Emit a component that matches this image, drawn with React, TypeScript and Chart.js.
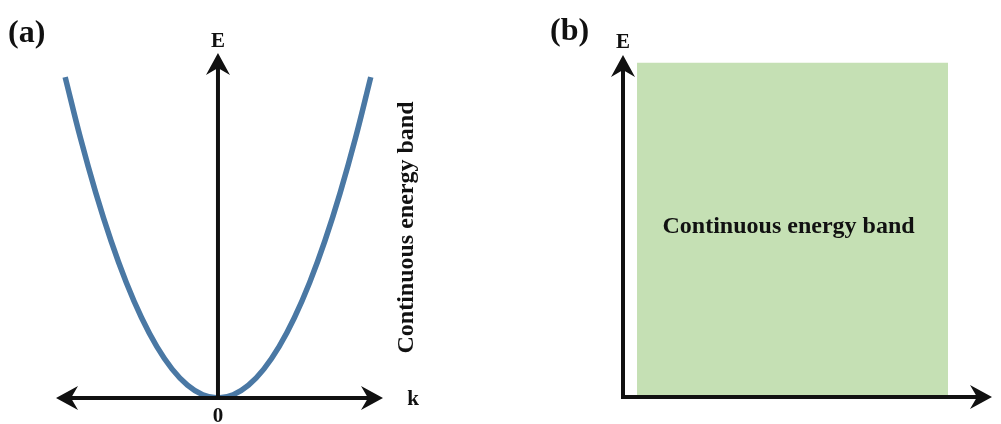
import React, { useEffect, useRef } from "react";
import { Chart, registerables } from "chart.js";

Chart.register(...registerables);

// ---- Panel (a): free-electron dispersion E(k) ----
const kValues = [-1.0, -0.9, -0.8, -0.7, -0.6, -0.5, -0.4, -0.3, -0.2, -0.1, 0, 0.1, 0.2, 0.3, 0.4, 0.5, 0.6, 0.7, 0.8, 0.9, 1.0];
const energyValues = [1.0, 0.81, 0.64, 0.49, 0.36, 0.25, 0.16, 0.09, 0.04, 0.01, 0, 0.01, 0.04, 0.09, 0.16, 0.25, 0.36, 0.49, 0.64, 0.81, 1.0];
const kAxisRange = [-1.06, 1.08];
const energyAxisRangeA = [0, 1.075];

// ---- Panel (b): continuous band block ----
const bandXRange = [0.038, 0.881];
const bandEnergyRange = [0.006, 0.977];
const axisXRangeB = [0, 1];
const energyAxisRangeB = [0, 1];

// ---- Text ----
const panelLabels = ["(a)", "(b)"];
const energyLabel = "E";
const kLabel = "k";
const originLabel = "0";
const bandLabel = "Continuous energy band";

const CURVE_COLOR = "#4a78a4";
const BAND_COLOR = "#c5e0b4";
const INK = "#111111";
const SERIF = "'Liberation Serif', 'DejaVu Serif', serif";

function arrowHead(ctx: CanvasRenderingContext2D, x: number, y: number, angle: number) {
  const len = 22, half = 12, notch = 7;
  ctx.save();
  ctx.translate(x, y);
  ctx.rotate(angle);
  ctx.beginPath();
  ctx.moveTo(0, 0);
  ctx.lineTo(-len, -half);
  ctx.lineTo(-len + notch, 0);
  ctx.lineTo(-len, half);
  ctx.closePath();
  ctx.fill();
  ctx.restore();
}

function line(ctx: CanvasRenderingContext2D, x1: number, y1: number, x2: number, y2: number) {
  ctx.beginPath();
  ctx.moveTo(x1, y1);
  ctx.lineTo(x2, y2);
  ctx.stroke();
}

const axesPluginA = {
  id: "axesA",
  afterDraw(chart: any) {
    const ctx: CanvasRenderingContext2D = chart.ctx;
    const xs = chart.scales.x, ys = chart.scales.y;
    const x0 = xs.getPixelForValue(0);
    const y0 = ys.getPixelForValue(0);
    const left = xs.getPixelForValue(kAxisRange[0]);
    const right = xs.getPixelForValue(kAxisRange[1]);
    const top = ys.getPixelForValue(energyAxisRangeA[1]);
    ctx.save();
    ctx.strokeStyle = INK;
    ctx.fillStyle = INK;
    ctx.lineWidth = 4;
    line(ctx, left + 15, y0, right - 15, y0);
    line(ctx, x0, y0 + 2, x0, top + 15);
    arrowHead(ctx, right, y0, 0);
    arrowHead(ctx, left, y0, Math.PI);
    arrowHead(ctx, x0, top, -Math.PI / 2);

    ctx.textAlign = "left";
    ctx.textBaseline = "alphabetic";
    ctx.font = `bold 32px ${SERIF}`;
    ctx.fillText(panelLabels[0], 8, 42);

    ctx.font = `bold 21px ${SERIF}`;
    ctx.textAlign = "center";
    ctx.fillText(energyLabel, x0, top - 6);
    ctx.fillText(kLabel, right + 30, y0 + 7);
    ctx.fillText(originLabel, x0, y0 + 24);

    ctx.font = `bold 24px ${SERIF}`;
    ctx.translate(right + 24, (top + y0) / 2 + 2);
    ctx.rotate(-Math.PI / 2);
    ctx.textBaseline = "middle";
    ctx.fillText(bandLabel, 0, 0);
    ctx.restore();
  },
};

const axesPluginB = {
  id: "axesB",
  afterDraw(chart: any) {
    const ctx: CanvasRenderingContext2D = chart.ctx;
    const xs = chart.scales.x, ys = chart.scales.y;
    const x0 = xs.getPixelForValue(axisXRangeB[0]);
    const y0 = ys.getPixelForValue(energyAxisRangeB[0]);
    const right = xs.getPixelForValue(axisXRangeB[1]);
    const top = ys.getPixelForValue(energyAxisRangeB[1]);
    ctx.save();
    ctx.strokeStyle = INK;
    ctx.fillStyle = INK;
    ctx.lineWidth = 4;
    ctx.lineCap = "square";
    line(ctx, x0, y0, right - 15, y0);
    line(ctx, x0, y0, x0, top + 15);
    arrowHead(ctx, right, y0, 0);
    arrowHead(ctx, x0, top, -Math.PI / 2);

    ctx.textAlign = "left";
    ctx.textBaseline = "alphabetic";
    ctx.font = `bold 32px ${SERIF}`;
    ctx.fillText(panelLabels[1], 50, 40);

    ctx.font = `bold 21px ${SERIF}`;
    ctx.textAlign = "center";
    ctx.fillText(energyLabel, x0, top - 7);

    const cx = (xs.getPixelForValue(bandXRange[0]) + xs.getPixelForValue(bandXRange[1])) / 2;
    const cy = (ys.getPixelForValue(bandEnergyRange[0]) + ys.getPixelForValue(bandEnergyRange[1])) / 2;
    ctx.font = `bold 24px ${SERIF}`;
    ctx.textBaseline = "middle";
    ctx.fillText(bandLabel, cx - 4, cy - 2);
    ctx.restore();
  },
};

function PanelA() {
  const ref = useRef<HTMLCanvasElement>(null);
  useEffect(() => {
    const chart = new Chart(ref.current!, {
      type: "line",
      data: {
        datasets: [
          {
            data: kValues.map((k, i) => ({ x: k, y: energyValues[i] })),
            borderColor: CURVE_COLOR,
            borderWidth: 5.5,
            pointRadius: 0,
            tension: 0.4,
            fill: false,
          },
        ],
      },
      options: {
        responsive: false,
        animation: false,
        layout: { padding: { left: 56, right: 117, top: 53, bottom: 26 } },
        scales: {
          x: { type: "linear", min: kAxisRange[0], max: kAxisRange[1], display: false },
          y: { type: "linear", min: energyAxisRangeA[0], max: energyAxisRangeA[1], display: false },
        },
        plugins: { legend: { display: false }, tooltip: { enabled: false } },
      },
      plugins: [axesPluginA],
    } as any);
    return () => chart.destroy();
  }, []);
  return <canvas ref={ref} width={500} height={424} style={{ position: "absolute", left: 0, top: 0 }} />;
}

function PanelB() {
  const ref = useRef<HTMLCanvasElement>(null);
  useEffect(() => {
    const chart = new Chart(ref.current!, {
      type: "line",
      data: {
        datasets: [
          {
            data: [
              { x: bandXRange[0], y: bandEnergyRange[1] },
              { x: bandXRange[1], y: bandEnergyRange[1] },
            ],
            borderWidth: 0,
            borderColor: BAND_COLOR,
            backgroundColor: BAND_COLOR,
            pointRadius: 0,
            fill: { value: bandEnergyRange[0] },
          },
        ],
      },
      options: {
        responsive: false,
        animation: false,
        layout: { padding: { left: 123, right: 9, top: 55, bottom: 27 } },
        scales: {
          x: { type: "linear", min: axisXRangeB[0], max: axisXRangeB[1], display: false },
          y: { type: "linear", min: energyAxisRangeB[0], max: energyAxisRangeB[1], display: false },
        },
        plugins: { legend: { display: false }, tooltip: { enabled: false } },
      },
      plugins: [axesPluginB],
    } as any);
    return () => chart.destroy();
  }, []);
  return <canvas ref={ref} width={501} height={424} style={{ position: "absolute", left: 500, top: 0 }} />;
}

export default function App() {
  return (
    <div style={{ position: "fixed", left: 0, top: 0, width: 1001, height: 424, background: "#ffffff" }}>
      <PanelA />
      <PanelB />
    </div>
  );
}
